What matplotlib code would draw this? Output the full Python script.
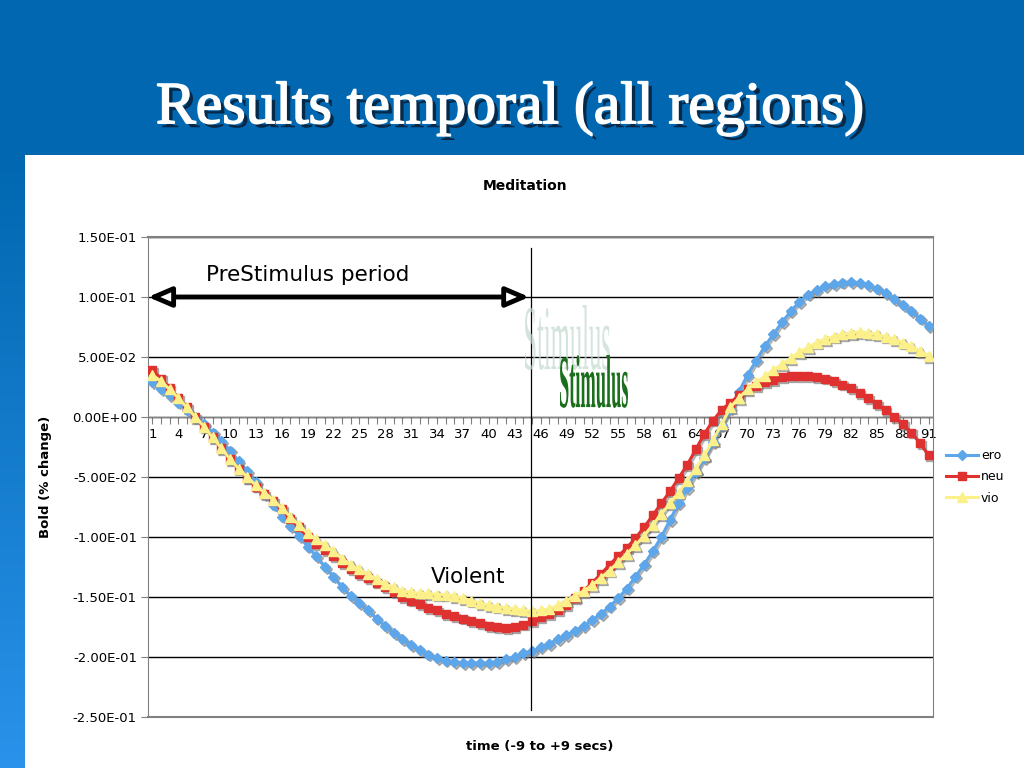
import numpy as np
import matplotlib
matplotlib.use('Agg')
import matplotlib.pyplot as plt
import matplotlib.patheffects as pe
from matplotlib import transforms
from matplotlib.patches import Rectangle, PathPatch
from matplotlib.textpath import TextPath
from matplotlib.font_manager import FontProperties
from matplotlib.colors import LinearSegmentedColormap

# dados (Bold % change por ponto de tempo)
tempo = list(range(1, 92))
ero = [0.029, 0.023, 0.018, 0.012, 0.006, 0.000, -0.006, -0.013, -0.020, -0.028,
       -0.037, -0.045, -0.054, -0.064, -0.073, -0.083, -0.091, -0.099, -0.108, -0.116,
       -0.125, -0.133, -0.142, -0.149, -0.155, -0.161, -0.168, -0.174, -0.180, -0.185,
       -0.190, -0.194, -0.198, -0.201, -0.203, -0.204, -0.205, -0.205, -0.205, -0.205,
       -0.204, -0.202, -0.200, -0.197, -0.195, -0.192, -0.189, -0.185, -0.182, -0.178,
       -0.174, -0.169, -0.164, -0.158, -0.151, -0.143, -0.133, -0.123, -0.112, -0.100,
       -0.086, -0.072, -0.059, -0.046, -0.034, -0.021, -0.007, 0.007, 0.021, 0.035,
       0.047, 0.059, 0.069, 0.079, 0.088, 0.096, 0.102, 0.106, 0.109, 0.111,
       0.112, 0.1125, 0.112, 0.110, 0.107, 0.103, 0.098, 0.093, 0.088, 0.082, 0.076]
neu = [0.039, 0.032, 0.024, 0.016, 0.008, 0.000, -0.008, -0.017, -0.026, -0.035,
       -0.043, -0.051, -0.058, -0.064, -0.070, -0.077, -0.085, -0.092, -0.100, -0.106,
       -0.111, -0.116, -0.122, -0.127, -0.131, -0.134, -0.138, -0.142, -0.146, -0.150,
       -0.153, -0.156, -0.159, -0.161, -0.164, -0.166, -0.168, -0.170, -0.172, -0.174,
       -0.175, -0.176, -0.175, -0.173, -0.170, -0.167, -0.164, -0.161, -0.157, -0.151,
       -0.145, -0.138, -0.131, -0.123, -0.116, -0.109, -0.101, -0.092, -0.082, -0.072,
       -0.062, -0.051, -0.040, -0.027, -0.014, -0.003, 0.006, 0.012, 0.018, 0.023,
       0.026, 0.029, 0.031, 0.033, 0.034, 0.034, 0.034, 0.033, 0.032, 0.030,
       0.027, 0.024, 0.020, 0.016, 0.011, 0.006, 0.000, -0.006, -0.013, -0.022, -0.032]
vio = [0.035, 0.030, 0.023, 0.016, 0.008, 0.000, -0.008, -0.017, -0.026, -0.035,
       -0.043, -0.050, -0.057, -0.063, -0.069, -0.076, -0.083, -0.090, -0.097, -0.102,
       -0.107, -0.112, -0.118, -0.123, -0.127, -0.131, -0.135, -0.139, -0.142, -0.145,
       -0.146, -0.147, -0.147, -0.148, -0.148, -0.149, -0.151, -0.153, -0.155, -0.157,
       -0.158, -0.159, -0.160, -0.161, -0.162, -0.161, -0.160, -0.157, -0.153, -0.149,
       -0.145, -0.140, -0.134, -0.128, -0.121, -0.114, -0.107, -0.099, -0.090, -0.081,
       -0.072, -0.063, -0.053, -0.043, -0.032, -0.019, -0.006, 0.008, 0.016, 0.023,
       0.029, 0.034, 0.039, 0.044, 0.049, 0.054, 0.058, 0.062, 0.065, 0.067,
       0.069, 0.070, 0.071, 0.070, 0.069, 0.067, 0.065, 0.062, 0.059, 0.055, 0.051]

y_ticks = [0.15, 0.10, 0.05, 0.0, -0.05, -0.10, -0.15, -0.20, -0.25]
y_labels = ["1.50E-01", "1.00E-01", "5.00E-02", "0.00E+00", "-5.00E-02",
            "-1.00E-01", "-1.50E-01", "-2.00E-01", "-2.50E-01"]
x_labels = [str(t) if (t - 1) % 3 == 0 else "" for t in tempo]

stim_x = 44.87  # linha vertical do estimulo (entre 44 e 45)

fig = plt.figure(figsize=(10.24, 7.68), dpi=100)
fig.patch.set_facecolor('#0067b0')

# fundo do slide: faixa azul com degrade a esquerda e painel branco
bg = fig.add_axes([0, 0, 1, 1])
bg.set_xlim(0, 1024)
bg.set_ylim(768, 0)
bg.axis('off')
cmap_bg = LinearSegmentedColormap.from_list('slide', ['#0067b0', '#2a92ea'])
bg.imshow(np.linspace(0, 1, 256).reshape(-1, 1), cmap=cmap_bg, aspect='auto',
          extent=(0, 25, 768, 155))
bg.add_patch(Rectangle((25, 155), 999, 613, facecolor='white', edgecolor='none'))
bg.text(511, 109, "Results temporal (all regions)", color='white',
        family='Liberation Serif', fontsize=43, ha='center', va='center',
        path_effects=[pe.SimplePatchShadow(offset=(3, -3), shadow_rgbFace='#0a1a30', alpha=0.8),
                      pe.Stroke(linewidth=1.2, foreground='white'),
                      pe.Normal()])
bg.text(525, 186, "Meditation", fontsize=10, fontweight='bold', ha='center', va='center')

# grafico principal
ax = fig.add_axes([148 / 1024, 1 - 717 / 768, 785 / 1024, 480 / 768])
ax.set_facecolor('white')

sombra = transforms.offset_copy(ax.transData, fig=fig, x=1.3, y=-1.3, units='points')
series = [
    ("ero", ero, '#5ea6ea', 'D', 5),
    ("neu", neu, '#e03131', 's', 5.5),
    ("vio", vio, '#fbf08a', '^', 6.5),
]
for nome, vals, cor, marc, tam in series:
    ax.plot(tempo, vals, color='#7a7a7a', marker=marc, markersize=tam, lw=2.2,
            alpha=0.55, transform=sombra, label='_nolegend_', zorder=3)
    ax.plot(tempo, vals, color=cor, marker=marc, markersize=tam, lw=2.2,
            markeredgecolor=cor, label=nome, zorder=4)

ax.set_xlim(0.5, 91.5)
ax.set_ylim(-0.25, 0.15)
ax.set_yticks(y_ticks)
ax.set_yticklabels(y_labels)
ax.set_xticks(tempo)
ax.set_xticklabels(x_labels)
ax.yaxis.grid(True, color='black', lw=1)
ax.tick_params(axis='y', length=5, color='gray', labelsize=9.5, pad=3)
ax.tick_params(axis='x', length=5, color='gray', labelsize=9.5, pad=3, direction='out')

for s in ['top', 'left', 'right']:
    ax.spines[s].set_color('gray')
ax.spines['bottom'].set_position(('data', 0))
ax.spines['bottom'].set_color('gray')
ax.axhline(-0.25, color='gray', lw=1.5, zorder=2.6, clip_on=False)
ax.axhline(0.15, color='gray', lw=1.5, zorder=2.6, clip_on=False)

ax.set_ylabel("Bold (% change)", fontsize=9.5, fontweight='bold')
ax.yaxis.set_label_coords((52 - 148) / 785, 0.5)
ax.set_xlabel("time (-9 to +9 secs)", fontsize=9.5, fontweight='bold')
ax.xaxis.set_label_coords(0.4994, -0.048)

ax.legend(loc='center left', bbox_to_anchor=(1.002, 0.50), frameon=False,
          fontsize=9, handlelength=2.6, labelspacing=0.65, handletextpad=0.2)

# anotacoes
ax.plot([stim_x, stim_x], [0.141, -0.244], color='black', lw=0.9, zorder=5)
ax.annotate('', xy=(0.5, 0.10), xytext=(44.7, 0.10),
            arrowprops=dict(arrowstyle='<|-|>,head_length=1.4,head_width=0.6',
                            lw=3.5, fc='white', ec='black', shrinkA=0, shrinkB=0),
            zorder=6)
ax.text(7.2, 0.118, "PreStimulus period", fontsize=15.5, va='center', ha='left')
ax.text(33.3, -0.133, "Violent", fontsize=15.5, va='center', ha='left')


def texto_estreito(s, x0, y_base, w, h, cor, peso, alpha):
    # texto serifado comprimido, em pixels do slide
    tp = TextPath((0, 0), s, size=100,
                  prop=FontProperties(family='Liberation Serif', weight=peso))
    ext = tp.get_extents()
    tr = (transforms.Affine2D()
          .translate(-ext.x0, -ext.y0)
          .scale(w / ext.width, h / ext.height)
          .translate(x0, 768 - y_base)
          .scale(1 / 1024, 1 / 768) + fig.transFigure)
    fig.add_artist(PathPatch(tp, transform=tr, facecolor=cor, edgecolor='none',
                             alpha=alpha, zorder=10))


texto_estreito("Stimulus", 525, 370, 85, 65, '#c3d9ce', 'normal', 0.7)
texto_estreito("Stimulus", 560, 408, 68, 53, '#1b6e1b', 'bold', 1.0)

fig.savefig('out.png', dpi=100, facecolor=fig.get_facecolor())
